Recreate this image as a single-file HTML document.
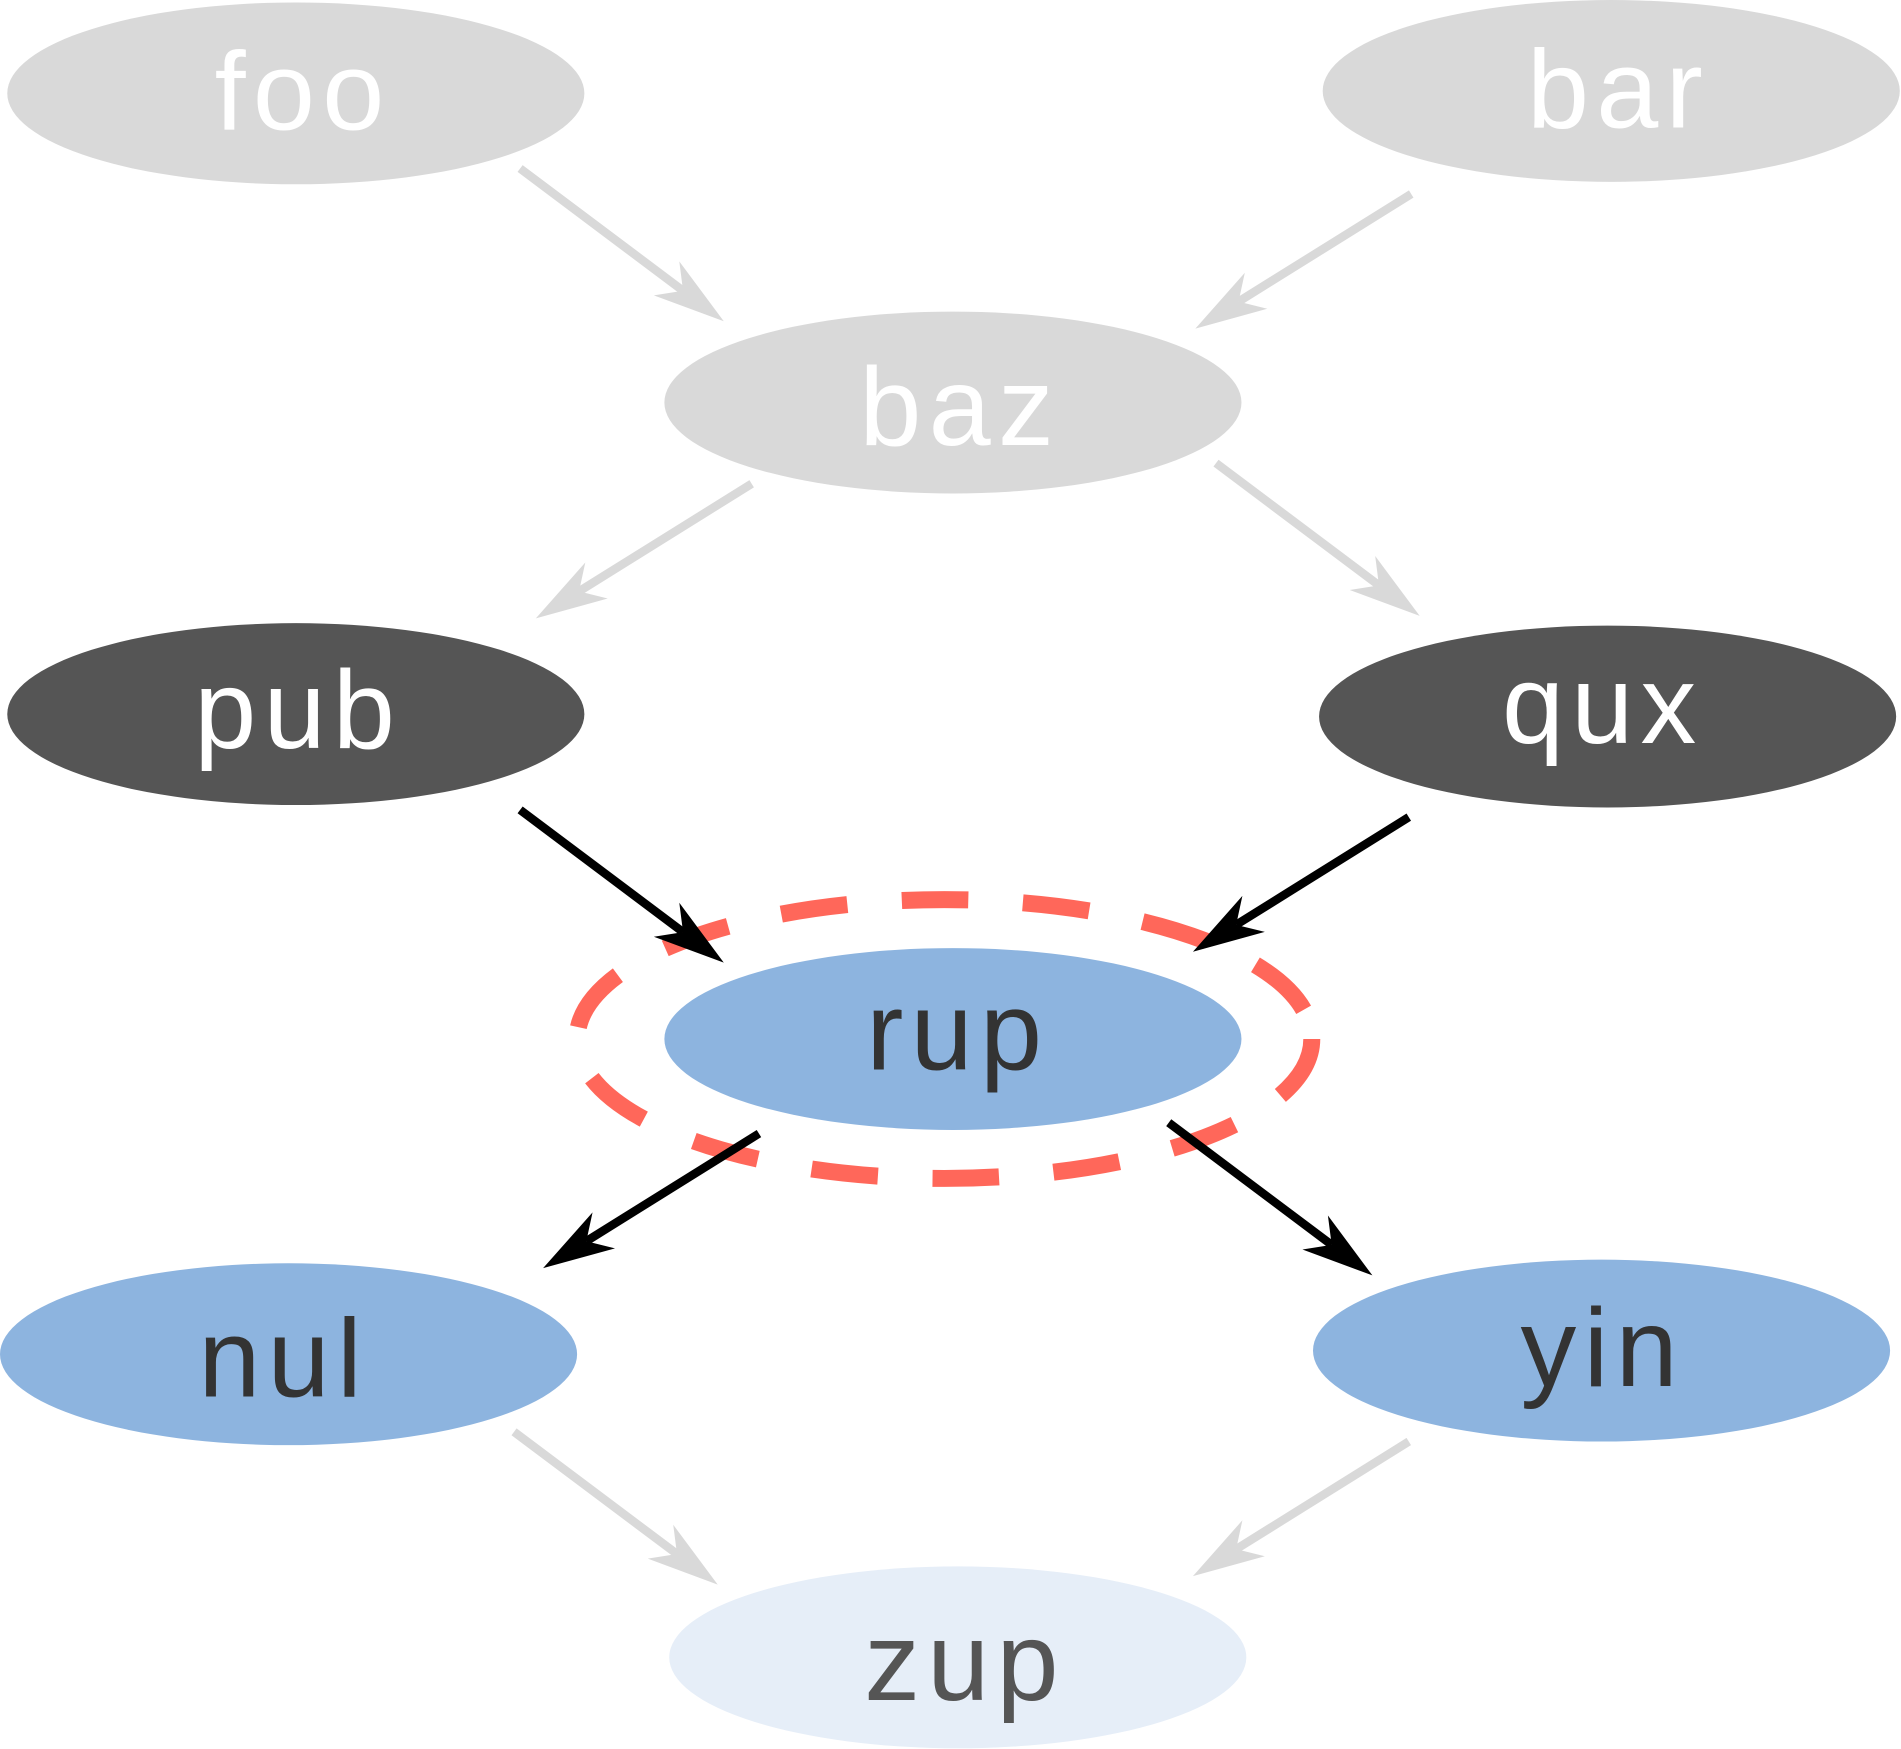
<!DOCTYPE html>
<html><head><meta charset="utf-8"><style>html,body{margin:0;padding:0;background:#fff}svg{display:block}</style></head>
<body>
<svg width="1901" height="1749" viewBox="0 0 1568 1442.6" xmlns="http://www.w3.org/2000/svg">
<defs>
<marker id="ag" markerUnits="userSpaceOnUse" markerWidth="80" markerHeight="60" refX="28" refY="30" orient="auto" viewBox="0 0 80 60"><path d="M70,30 L11,12.5 L28,30 L11,47.5 Z" fill="#d9d9d9"/></marker>
<marker id="ab" markerUnits="userSpaceOnUse" markerWidth="80" markerHeight="60" refX="28" refY="30" orient="auto" viewBox="0 0 80 60"><path d="M70,30 L11,12.5 L28,30 L11,47.5 Z" fill="#000"/></marker>
</defs>
<g font-family="Liberation Sans, sans-serif" font-size="92" font-weight="normal" text-anchor="middle">
<ellipse cx="244" cy="77" rx="238" ry="75" fill="#d9d9d9"/><text x="250" y="107" fill="#fff" letter-spacing="6">foo</text>
<ellipse cx="1329" cy="75" rx="238" ry="75" fill="#d9d9d9"/><text x="1335" y="105" fill="#fff" letter-spacing="6">bar</text>
<ellipse cx="786" cy="332" rx="238" ry="75" fill="#d9d9d9"/><text x="792" y="367" fill="#fff" letter-spacing="6">baz</text>
<ellipse cx="244" cy="589" rx="238" ry="75" fill="#555"/><text x="246" y="617" fill="#fff" letter-spacing="6">pub</text>
<ellipse cx="1326" cy="591" rx="238" ry="75" fill="#555"/><text x="1322" y="613" fill="#fff" letter-spacing="6">qux</text>
<ellipse cx="779" cy="857" rx="303" ry="115" fill="none" stroke="#ff675a" stroke-width="14" stroke-dasharray="55 45"/>
<ellipse cx="786" cy="857" rx="238" ry="75" fill="#8db4df"/><text x="790" y="882" fill="#333" letter-spacing="6">rup</text>
<ellipse cx="238" cy="1117" rx="238" ry="75" fill="#8db4df"/><text x="234" y="1152" fill="#333" letter-spacing="6">nul</text>
<ellipse cx="1321" cy="1114" rx="238" ry="75" fill="#8db4df"/><text x="1322" y="1143" fill="#333" letter-spacing="6">yin</text>
<ellipse cx="790" cy="1367" rx="238" ry="75" fill="#e6eef8"/><text x="796" y="1402" fill="#555" letter-spacing="6">zup</text>
</g>
<g stroke-width="7" fill="none">
<line x1="429" y1="139" x2="563.4" y2="239.8" stroke="#d9d9d9" marker-end="url(#ag)"/>
<line x1="1164" y1="160" x2="1021.6" y2="248.8" stroke="#d9d9d9" marker-end="url(#ag)"/>
<line x1="620" y1="399" x2="477.6" y2="487.8" stroke="#d9d9d9" marker-end="url(#ag)"/>
<line x1="1003" y1="382" x2="1137.4" y2="482.8" stroke="#d9d9d9" marker-end="url(#ag)"/>
<line x1="429" y1="668" x2="563.4" y2="768.8" stroke="#000" marker-end="url(#ab)"/>
<line x1="1162" y1="674" x2="1019.6" y2="762.8" stroke="#000" marker-end="url(#ab)"/>
<line x1="626" y1="935" x2="483.6" y2="1023.8" stroke="#000" marker-end="url(#ab)"/>
<line x1="964" y1="926" x2="1098.4" y2="1026.8" stroke="#000" marker-end="url(#ab)"/>
<line x1="424" y1="1181" x2="558.4" y2="1281.8" stroke="#d9d9d9" marker-end="url(#ag)"/>
<line x1="1162" y1="1189" x2="1019.6" y2="1277.8" stroke="#d9d9d9" marker-end="url(#ag)"/>
</g>
</svg>
</body></html>
